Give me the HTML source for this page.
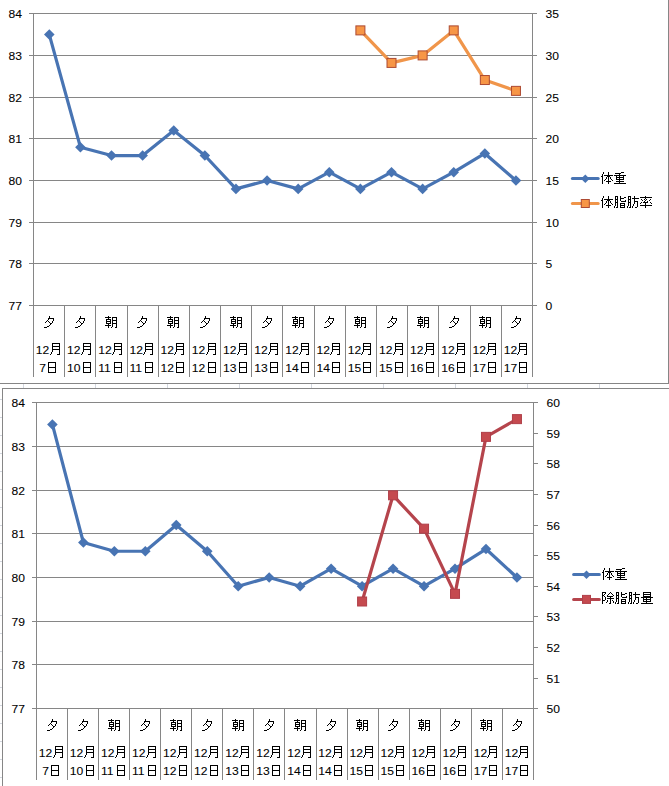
<!DOCTYPE html>
<html lang="ja"><head><meta charset="utf-8"><title>体重 / 体脂肪率 / 除脂肪量</title>
<style>html,body{margin:0;padding:0;background:#fff;}body{width:669px;height:786px;overflow:hidden;font-family:"Liberation Sans",sans-serif;}svg{display:block;}text{font-family:"Liberation Sans",sans-serif;font-size:11px;fill:#000;stroke:#000;stroke-width:0.08px;}.h{font-size:13px;fill:none;stroke:none;}.g{stroke:#868686;stroke-width:1;fill:none;shape-rendering:crispEdges;}.s{stroke:#d3d7df;stroke-width:1;fill:none;shape-rendering:crispEdges;}</style></head><body>
<svg width="669" height="786" viewBox="0 0 669 786">
<defs>
<path id="k0" d="M3 1h1v1h-1zM8 1h1v1h-1zM3 2h1v1h-1zM8 2h1v1h-1zM2 3h1v1h-1zM8 3h1v1h-1zM2 4h1v1h-1zM4 4h9v1h-9zM1 5h2v1h-2zM7 5h3v1h-3zM2 6h1v1h-1zM6 6h1v1h-1zM8 6h1v1h-1zM10 6h1v1h-1zM2 7h1v1h-1zM6 7h1v1h-1zM8 7h1v1h-1zM10 7h1v1h-1zM2 8h1v1h-1zM5 8h1v1h-1zM8 8h1v1h-1zM11 8h1v1h-1zM2 9h1v1h-1zM4 9h1v1h-1zM8 9h1v1h-1zM12 9h1v1h-1zM2 10h1v1h-1zM6 10h5v1h-5zM2 11h1v1h-1zM8 11h1v1h-1zM2 12h1v1h-1zM8 12h1v1h-1z" fill="#000" shape-rendering="crispEdges"/>
<path id="k1" d="M8 1h3v1h-3zM2 2h6v1h-6zM6 3h1v1h-1zM1 4h12v1h-12zM3 5h1v1h-1zM6 5h1v1h-1zM10 5h1v1h-1zM3 6h8v1h-8zM3 7h1v1h-1zM6 7h1v1h-1zM10 7h1v1h-1zM3 8h8v1h-8zM6 9h1v1h-1zM3 10h8v1h-8zM6 11h1v1h-1zM1 12h12v1h-12z" fill="#000" shape-rendering="crispEdges"/>
<path id="k2" d="M2 1h3v1h-3zM7 1h1v1h-1zM2 2h1v1h-1zM4 2h1v1h-1zM7 2h1v1h-1zM11 2h2v1h-2zM2 3h1v1h-1zM4 3h1v1h-1zM7 3h4v1h-4zM2 4h3v1h-3zM7 4h1v1h-1zM2 5h1v1h-1zM4 5h1v1h-1zM7 5h1v1h-1zM12 5h1v1h-1zM2 6h1v1h-1zM4 6h1v1h-1zM8 6h5v1h-5zM2 7h3v1h-3zM2 8h1v1h-1zM4 8h1v1h-1zM7 8h5v1h-5zM2 9h1v1h-1zM4 9h1v1h-1zM7 9h1v1h-1zM11 9h1v1h-1zM2 10h1v1h-1zM4 10h1v1h-1zM7 10h5v1h-5zM1 11h1v1h-1zM4 11h1v1h-1zM7 11h1v1h-1zM11 11h1v1h-1zM1 12h1v1h-1zM3 12h2v1h-2zM7 12h5v1h-5z" fill="#000" shape-rendering="crispEdges"/>
<path id="k3" d="M2 1h3v1h-3zM8 1h1v1h-1zM2 2h1v1h-1zM4 2h1v1h-1zM8 2h1v1h-1zM2 3h1v1h-1zM4 3h1v1h-1zM6 3h7v1h-7zM2 4h3v1h-3zM8 4h1v1h-1zM2 5h1v1h-1zM4 5h1v1h-1zM8 5h1v1h-1zM2 6h1v1h-1zM4 6h1v1h-1zM8 6h4v1h-4zM2 7h3v1h-3zM8 7h1v1h-1zM11 7h1v1h-1zM2 8h1v1h-1zM4 8h1v1h-1zM8 8h1v1h-1zM11 8h1v1h-1zM2 9h1v1h-1zM4 9h1v1h-1zM7 9h1v1h-1zM11 9h1v1h-1zM2 10h1v1h-1zM4 10h1v1h-1zM7 10h1v1h-1zM11 10h1v1h-1zM1 11h1v1h-1zM4 11h1v1h-1zM6 11h1v1h-1zM11 11h1v1h-1zM1 12h1v1h-1zM3 12h2v1h-2zM6 12h1v1h-1zM9 12h2v1h-2z" fill="#000" shape-rendering="crispEdges"/>
<path id="k4" d="M6 1h1v1h-1zM1 2h12v1h-12zM6 3h1v1h-1zM2 4h1v1h-1zM5 4h1v1h-1zM7 4h1v1h-1zM11 4h1v1h-1zM3 5h1v1h-1zM6 5h1v1h-1zM10 5h1v1h-1zM5 6h1v1h-1zM8 6h1v1h-1zM2 7h1v1h-1zM4 7h5v1h-5zM11 7h1v1h-1zM1 8h1v1h-1zM6 8h1v1h-1zM12 8h1v1h-1zM6 9h1v1h-1zM1 10h12v1h-12zM6 11h1v1h-1zM6 12h1v1h-1z" fill="#000" shape-rendering="crispEdges"/>
<path id="k5" d="M1 1h4v1h-4zM9 1h1v1h-1zM1 2h1v1h-1zM4 2h1v1h-1zM8 2h1v1h-1zM10 2h1v1h-1zM1 3h1v1h-1zM3 3h1v1h-1zM7 3h1v1h-1zM11 3h1v1h-1zM1 4h2v1h-2zM6 4h1v1h-1zM12 4h1v1h-1zM1 5h1v1h-1zM3 5h1v1h-1zM6 5h6v1h-6zM1 6h1v1h-1zM4 6h1v1h-1zM9 6h1v1h-1zM1 7h1v1h-1zM4 7h1v1h-1zM6 7h7v1h-7zM1 8h1v1h-1zM4 8h1v1h-1zM9 8h1v1h-1zM1 9h3v1h-3zM6 9h1v1h-1zM9 9h1v1h-1zM11 9h1v1h-1zM1 10h1v1h-1zM6 10h1v1h-1zM9 10h1v1h-1zM12 10h1v1h-1zM1 11h1v1h-1zM5 11h1v1h-1zM9 11h1v1h-1zM12 11h1v1h-1zM1 12h1v1h-1zM8 12h2v1h-2z" fill="#000" shape-rendering="crispEdges"/>
<path id="k6" d="M3 1h8v1h-8zM3 2h1v1h-1zM10 2h1v1h-1zM3 3h8v1h-8zM3 4h1v1h-1zM10 4h1v1h-1zM3 5h8v1h-8zM1 6h12v1h-12zM3 7h1v1h-1zM6 7h1v1h-1zM10 7h1v1h-1zM3 8h8v1h-8zM3 9h1v1h-1zM6 9h1v1h-1zM10 9h1v1h-1zM3 10h8v1h-8zM6 11h1v1h-1zM1 12h12v1h-12z" fill="#000" shape-rendering="crispEdges"/>
<path id="k7" d="M4 1h1v1h-1zM1 2h6v1h-6zM8 2h5v1h-5zM4 3h1v1h-1zM8 3h1v1h-1zM12 3h1v1h-1zM2 4h5v1h-5zM8 4h1v1h-1zM12 4h1v1h-1zM2 5h1v1h-1zM6 5h1v1h-1zM8 5h5v1h-5zM2 6h5v1h-5zM8 6h1v1h-1zM12 6h1v1h-1zM2 7h1v1h-1zM6 7h1v1h-1zM8 7h1v1h-1zM12 7h1v1h-1zM2 8h5v1h-5zM8 8h5v1h-5zM4 9h1v1h-1zM8 9h1v1h-1zM12 9h1v1h-1zM1 10h6v1h-6zM8 10h1v1h-1zM12 10h1v1h-1zM4 11h1v1h-1zM8 11h1v1h-1zM12 11h1v1h-1zM4 12h1v1h-1zM7 12h1v1h-1zM11 12h2v1h-2z" fill="#000" shape-rendering="crispEdges"/>
<path id="k8" d="M7 1h1v1h-1zM7 2h1v1h-1zM6 3h6v1h-6zM6 4h1v1h-1zM11 4h1v1h-1zM5 5h1v1h-1zM11 5h1v1h-1zM4 6h1v1h-1zM6 6h1v1h-1zM10 6h1v1h-1zM3 7h1v1h-1zM7 7h1v1h-1zM10 7h1v1h-1zM8 8h2v1h-2zM8 9h1v1h-1zM7 10h1v1h-1zM5 11h2v1h-2zM2 12h3v1h-3z" fill="#000" shape-rendering="crispEdges"/>
<path id="k9" d="M2 1h8v1h-8zM2 2h1v1h-1zM9 2h1v1h-1zM2 3h1v1h-1zM9 3h1v1h-1zM2 4h8v1h-8zM2 5h1v1h-1zM9 5h1v1h-1zM2 6h1v1h-1zM9 6h1v1h-1zM2 7h8v1h-8zM2 8h1v1h-1zM9 8h1v1h-1zM2 9h1v1h-1zM9 9h1v1h-1zM1 10h1v1h-1zM9 10h1v1h-1zM1 11h1v1h-1zM9 11h1v1h-1zM0 12h1v1h-1zM7 12h3v1h-3z" fill="#000" shape-rendering="crispEdges"/>
<path id="k10" d="M2 2h8v1h-8zM2 3h1v1h-1zM9 3h1v1h-1zM2 4h1v1h-1zM9 4h1v1h-1zM2 5h1v1h-1zM9 5h1v1h-1zM2 6h1v1h-1zM9 6h1v1h-1zM2 7h8v1h-8zM2 8h1v1h-1zM9 8h1v1h-1zM2 9h1v1h-1zM9 9h1v1h-1zM2 10h1v1h-1zM9 10h1v1h-1zM2 11h1v1h-1zM9 11h1v1h-1zM2 12h8v1h-8z" fill="#000" shape-rendering="crispEdges"/>
</defs>
<rect x="0" y="0" width="669" height="786" fill="#fff"/>
<line class="s" x1="23.5" y1="384" x2="23.5" y2="388"/>
<line class="s" x1="95.5" y1="384" x2="95.5" y2="388"/>
<line class="s" x1="167.5" y1="384" x2="167.5" y2="388"/>
<line class="s" x1="239.5" y1="384" x2="239.5" y2="388"/>
<line class="s" x1="311.5" y1="384" x2="311.5" y2="388"/>
<line class="s" x1="383.5" y1="384" x2="383.5" y2="388"/>
<line class="s" x1="455.5" y1="384" x2="455.5" y2="388"/>
<line class="s" x1="527.5" y1="384" x2="527.5" y2="388"/>
<line class="s" x1="599.5" y1="384" x2="599.5" y2="388"/>
<line class="s" x1="0" y1="399.5" x2="2" y2="399.5"/>
<line class="s" x1="0" y1="417.5" x2="2" y2="417.5"/>
<line class="s" x1="0" y1="435.5" x2="2" y2="435.5"/>
<line class="s" x1="0" y1="453.5" x2="2" y2="453.5"/>
<line class="s" x1="0" y1="471.5" x2="2" y2="471.5"/>
<line class="s" x1="0" y1="489.5" x2="2" y2="489.5"/>
<line class="s" x1="0" y1="507.5" x2="2" y2="507.5"/>
<line class="s" x1="0" y1="525.5" x2="2" y2="525.5"/>
<line class="s" x1="0" y1="543.5" x2="2" y2="543.5"/>
<line class="s" x1="0" y1="561.5" x2="2" y2="561.5"/>
<line class="s" x1="0" y1="579.5" x2="2" y2="579.5"/>
<line class="s" x1="0" y1="597.5" x2="2" y2="597.5"/>
<line class="s" x1="0" y1="615.5" x2="2" y2="615.5"/>
<line class="s" x1="0" y1="633.5" x2="2" y2="633.5"/>
<line class="s" x1="0" y1="651.5" x2="2" y2="651.5"/>
<line class="s" x1="0" y1="669.5" x2="2" y2="669.5"/>
<line class="s" x1="0" y1="687.5" x2="2" y2="687.5"/>
<line class="s" x1="0" y1="705.5" x2="2" y2="705.5"/>
<line class="s" x1="0" y1="723.5" x2="2" y2="723.5"/>
<line class="s" x1="0" y1="741.5" x2="2" y2="741.5"/>
<line class="s" x1="0" y1="759.5" x2="2" y2="759.5"/>
<line class="s" x1="0" y1="777.5" x2="2" y2="777.5"/>
<line class="g" x1="0" y1="383.5" x2="669" y2="383.5"/>
<line class="g" x1="668.5" y1="0" x2="668.5" y2="384"/>
<line class="g" x1="2" y1="388.5" x2="669" y2="388.5"/>
<line class="g" x1="2.5" y1="388" x2="2.5" y2="786"/>
<line class="g" x1="29" y1="13.5" x2="533" y2="13.5"/>
<line class="g" x1="29" y1="55.5" x2="533" y2="55.5"/>
<line class="g" x1="29" y1="97.5" x2="533" y2="97.5"/>
<line class="g" x1="29" y1="138.5" x2="533" y2="138.5"/>
<line class="g" x1="29" y1="180.5" x2="533" y2="180.5"/>
<line class="g" x1="29" y1="222.5" x2="533" y2="222.5"/>
<line class="g" x1="29" y1="263.5" x2="533" y2="263.5"/>
<line class="g" x1="29" y1="305.5" x2="533" y2="305.5"/>
<line class="g" x1="532.5" y1="13.5" x2="537" y2="13.5"/>
<line class="g" x1="532.5" y1="55.5" x2="537" y2="55.5"/>
<line class="g" x1="532.5" y1="97.5" x2="537" y2="97.5"/>
<line class="g" x1="532.5" y1="138.5" x2="537" y2="138.5"/>
<line class="g" x1="532.5" y1="180.5" x2="537" y2="180.5"/>
<line class="g" x1="532.5" y1="222.5" x2="537" y2="222.5"/>
<line class="g" x1="532.5" y1="263.5" x2="537" y2="263.5"/>
<line class="g" x1="532.5" y1="305.5" x2="537" y2="305.5"/>
<line class="g" x1="33.5" y1="13" x2="33.5" y2="377"/>
<line class="g" x1="532.5" y1="13" x2="532.5" y2="377"/>
<line class="g" x1="64.5" y1="305.5" x2="64.5" y2="377"/>
<line class="g" x1="95.5" y1="305.5" x2="95.5" y2="377"/>
<line class="g" x1="127.5" y1="305.5" x2="127.5" y2="377"/>
<line class="g" x1="158.5" y1="305.5" x2="158.5" y2="377"/>
<line class="g" x1="189.5" y1="305.5" x2="189.5" y2="377"/>
<line class="g" x1="220.5" y1="305.5" x2="220.5" y2="377"/>
<line class="g" x1="251.5" y1="305.5" x2="251.5" y2="377"/>
<line class="g" x1="282.5" y1="305.5" x2="282.5" y2="377"/>
<line class="g" x1="314.5" y1="305.5" x2="314.5" y2="377"/>
<line class="g" x1="345.5" y1="305.5" x2="345.5" y2="377"/>
<line class="g" x1="376.5" y1="305.5" x2="376.5" y2="377"/>
<line class="g" x1="407.5" y1="305.5" x2="407.5" y2="377"/>
<line class="g" x1="438.5" y1="305.5" x2="438.5" y2="377"/>
<line class="g" x1="470.5" y1="305.5" x2="470.5" y2="377"/>
<line class="g" x1="501.5" y1="305.5" x2="501.5" y2="377"/>
<text transform="translate(8.50 17.80) scale(1.1 1)">84</text>
<text transform="translate(8.50 59.80) scale(1.1 1)">83</text>
<text transform="translate(8.50 101.80) scale(1.1 1)">82</text>
<text transform="translate(8.50 142.80) scale(1.1 1)">81</text>
<text transform="translate(8.50 184.80) scale(1.1 1)">80</text>
<text transform="translate(8.50 226.80) scale(1.1 1)">79</text>
<text transform="translate(8.50 267.80) scale(1.1 1)">78</text>
<text transform="translate(8.50 309.80) scale(1.1 1)">77</text>
<text transform="translate(545.50 17.80) scale(1.1 1)">35</text>
<text transform="translate(545.50 59.80) scale(1.1 1)">30</text>
<text transform="translate(545.50 101.80) scale(1.1 1)">25</text>
<text transform="translate(545.50 142.80) scale(1.1 1)">20</text>
<text transform="translate(545.50 184.80) scale(1.1 1)">15</text>
<text transform="translate(545.50 226.80) scale(1.1 1)">10</text>
<text transform="translate(545.50 267.80) scale(1.1 1)">5</text>
<text transform="translate(545.50 309.80) scale(1.1 1)">0</text>
<g role="img" aria-label="夕 12月7日">
<use href="#k8" xlink:href="#k8" x="42" y="315"/><text class="h" x="42" y="327">夕</text>
<g role="img" aria-label="12月"><text transform="translate(35.87 353.90) scale(1.1 1)">12</text><use href="#k9" xlink:href="#k9" x="50" y="342"/><text class="h" x="50" y="354">月</text></g>
<g role="img" aria-label="7日"><text transform="translate(39.23 371.90) scale(1.1 1)">7</text><use href="#k10" xlink:href="#k10" x="46" y="360"/><text class="h" x="46" y="372">日</text></g>
</g>
<g role="img" aria-label="夕 12月10日">
<use href="#k8" xlink:href="#k8" x="73" y="315"/><text class="h" x="73" y="327">夕</text>
<g role="img" aria-label="12月"><text transform="translate(67.05 353.90) scale(1.1 1)">12</text><use href="#k9" xlink:href="#k9" x="81" y="342"/><text class="h" x="81" y="354">月</text></g>
<g role="img" aria-label="10日"><text transform="translate(67.05 371.90) scale(1.1 1)">10</text><use href="#k10" xlink:href="#k10" x="81" y="360"/><text class="h" x="81" y="372">日</text></g>
</g>
<g role="img" aria-label="朝 12月11日">
<use href="#k7" xlink:href="#k7" x="104" y="315"/><text class="h" x="104" y="327">朝</text>
<g role="img" aria-label="12月"><text transform="translate(98.24 353.90) scale(1.1 1)">12</text><use href="#k9" xlink:href="#k9" x="112" y="342"/><text class="h" x="112" y="354">月</text></g>
<g role="img" aria-label="11日"><text transform="translate(98.24 371.90) scale(1.1 1)">11</text><use href="#k10" xlink:href="#k10" x="112" y="360"/><text class="h" x="112" y="372">日</text></g>
</g>
<g role="img" aria-label="夕 12月11日">
<use href="#k8" xlink:href="#k8" x="135" y="315"/><text class="h" x="135" y="327">夕</text>
<g role="img" aria-label="12月"><text transform="translate(129.43 353.90) scale(1.1 1)">12</text><use href="#k9" xlink:href="#k9" x="143" y="342"/><text class="h" x="143" y="354">月</text></g>
<g role="img" aria-label="11日"><text transform="translate(129.43 371.90) scale(1.1 1)">11</text><use href="#k10" xlink:href="#k10" x="143" y="360"/><text class="h" x="143" y="372">日</text></g>
</g>
<g role="img" aria-label="朝 12月12日">
<use href="#k7" xlink:href="#k7" x="166" y="315"/><text class="h" x="166" y="327">朝</text>
<g role="img" aria-label="12月"><text transform="translate(160.62 353.90) scale(1.1 1)">12</text><use href="#k9" xlink:href="#k9" x="174" y="342"/><text class="h" x="174" y="354">月</text></g>
<g role="img" aria-label="12日"><text transform="translate(160.62 371.90) scale(1.1 1)">12</text><use href="#k10" xlink:href="#k10" x="174" y="360"/><text class="h" x="174" y="372">日</text></g>
</g>
<g role="img" aria-label="夕 12月12日">
<use href="#k8" xlink:href="#k8" x="198" y="315"/><text class="h" x="198" y="327">夕</text>
<g role="img" aria-label="12月"><text transform="translate(191.80 353.90) scale(1.1 1)">12</text><use href="#k9" xlink:href="#k9" x="206" y="342"/><text class="h" x="206" y="354">月</text></g>
<g role="img" aria-label="12日"><text transform="translate(191.80 371.90) scale(1.1 1)">12</text><use href="#k10" xlink:href="#k10" x="206" y="360"/><text class="h" x="206" y="372">日</text></g>
</g>
<g role="img" aria-label="朝 12月13日">
<use href="#k7" xlink:href="#k7" x="229" y="315"/><text class="h" x="229" y="327">朝</text>
<g role="img" aria-label="12月"><text transform="translate(222.99 353.90) scale(1.1 1)">12</text><use href="#k9" xlink:href="#k9" x="237" y="342"/><text class="h" x="237" y="354">月</text></g>
<g role="img" aria-label="13日"><text transform="translate(222.99 371.90) scale(1.1 1)">13</text><use href="#k10" xlink:href="#k10" x="237" y="360"/><text class="h" x="237" y="372">日</text></g>
</g>
<g role="img" aria-label="夕 12月13日">
<use href="#k8" xlink:href="#k8" x="260" y="315"/><text class="h" x="260" y="327">夕</text>
<g role="img" aria-label="12月"><text transform="translate(254.18 353.90) scale(1.1 1)">12</text><use href="#k9" xlink:href="#k9" x="268" y="342"/><text class="h" x="268" y="354">月</text></g>
<g role="img" aria-label="13日"><text transform="translate(254.18 371.90) scale(1.1 1)">13</text><use href="#k10" xlink:href="#k10" x="268" y="360"/><text class="h" x="268" y="372">日</text></g>
</g>
<g role="img" aria-label="朝 12月14日">
<use href="#k7" xlink:href="#k7" x="291" y="315"/><text class="h" x="291" y="327">朝</text>
<g role="img" aria-label="12月"><text transform="translate(285.37 353.90) scale(1.1 1)">12</text><use href="#k9" xlink:href="#k9" x="299" y="342"/><text class="h" x="299" y="354">月</text></g>
<g role="img" aria-label="14日"><text transform="translate(285.37 371.90) scale(1.1 1)">14</text><use href="#k10" xlink:href="#k10" x="299" y="360"/><text class="h" x="299" y="372">日</text></g>
</g>
<g role="img" aria-label="夕 12月14日">
<use href="#k8" xlink:href="#k8" x="322" y="315"/><text class="h" x="322" y="327">夕</text>
<g role="img" aria-label="12月"><text transform="translate(316.55 353.90) scale(1.1 1)">12</text><use href="#k9" xlink:href="#k9" x="330" y="342"/><text class="h" x="330" y="354">月</text></g>
<g role="img" aria-label="14日"><text transform="translate(316.55 371.90) scale(1.1 1)">14</text><use href="#k10" xlink:href="#k10" x="330" y="360"/><text class="h" x="330" y="372">日</text></g>
</g>
<g role="img" aria-label="朝 12月15日">
<use href="#k7" xlink:href="#k7" x="353" y="315"/><text class="h" x="353" y="327">朝</text>
<g role="img" aria-label="12月"><text transform="translate(347.74 353.90) scale(1.1 1)">12</text><use href="#k9" xlink:href="#k9" x="361" y="342"/><text class="h" x="361" y="354">月</text></g>
<g role="img" aria-label="15日"><text transform="translate(347.74 371.90) scale(1.1 1)">15</text><use href="#k10" xlink:href="#k10" x="361" y="360"/><text class="h" x="361" y="372">日</text></g>
</g>
<g role="img" aria-label="夕 12月15日">
<use href="#k8" xlink:href="#k8" x="385" y="315"/><text class="h" x="385" y="327">夕</text>
<g role="img" aria-label="12月"><text transform="translate(378.93 353.90) scale(1.1 1)">12</text><use href="#k9" xlink:href="#k9" x="393" y="342"/><text class="h" x="393" y="354">月</text></g>
<g role="img" aria-label="15日"><text transform="translate(378.93 371.90) scale(1.1 1)">15</text><use href="#k10" xlink:href="#k10" x="393" y="360"/><text class="h" x="393" y="372">日</text></g>
</g>
<g role="img" aria-label="朝 12月16日">
<use href="#k7" xlink:href="#k7" x="416" y="315"/><text class="h" x="416" y="327">朝</text>
<g role="img" aria-label="12月"><text transform="translate(410.12 353.90) scale(1.1 1)">12</text><use href="#k9" xlink:href="#k9" x="424" y="342"/><text class="h" x="424" y="354">月</text></g>
<g role="img" aria-label="16日"><text transform="translate(410.12 371.90) scale(1.1 1)">16</text><use href="#k10" xlink:href="#k10" x="424" y="360"/><text class="h" x="424" y="372">日</text></g>
</g>
<g role="img" aria-label="夕 12月16日">
<use href="#k8" xlink:href="#k8" x="447" y="315"/><text class="h" x="447" y="327">夕</text>
<g role="img" aria-label="12月"><text transform="translate(441.30 353.90) scale(1.1 1)">12</text><use href="#k9" xlink:href="#k9" x="455" y="342"/><text class="h" x="455" y="354">月</text></g>
<g role="img" aria-label="16日"><text transform="translate(441.30 371.90) scale(1.1 1)">16</text><use href="#k10" xlink:href="#k10" x="455" y="360"/><text class="h" x="455" y="372">日</text></g>
</g>
<g role="img" aria-label="朝 12月17日">
<use href="#k7" xlink:href="#k7" x="478" y="315"/><text class="h" x="478" y="327">朝</text>
<g role="img" aria-label="12月"><text transform="translate(472.49 353.90) scale(1.1 1)">12</text><use href="#k9" xlink:href="#k9" x="486" y="342"/><text class="h" x="486" y="354">月</text></g>
<g role="img" aria-label="17日"><text transform="translate(472.49 371.90) scale(1.1 1)">17</text><use href="#k10" xlink:href="#k10" x="486" y="360"/><text class="h" x="486" y="372">日</text></g>
</g>
<g role="img" aria-label="夕 12月17日">
<use href="#k8" xlink:href="#k8" x="509" y="315"/><text class="h" x="509" y="327">夕</text>
<g role="img" aria-label="12月"><text transform="translate(503.68 353.90) scale(1.1 1)">12</text><use href="#k9" xlink:href="#k9" x="517" y="342"/><text class="h" x="517" y="354">月</text></g>
<g role="img" aria-label="17日"><text transform="translate(503.68 371.90) scale(1.1 1)">17</text><use href="#k10" xlink:href="#k10" x="517" y="360"/><text class="h" x="517" y="372">日</text></g>
</g>
<polyline fill="none" stroke="#4874b3" stroke-width="3.2" stroke-linejoin="round" stroke-linecap="round" points="49.30,34.56 80.41,147.19 111.52,155.53 142.63,155.53 173.74,130.50 204.85,155.53 235.96,188.90 267.07,180.56 298.18,188.90 329.29,172.21 360.40,188.90 391.51,172.21 422.62,188.90 453.73,172.21 484.84,153.44 515.95,180.56"/>
<path fill="#4874b3" d="M49.30 29.26l5.3 5.3l-5.3 5.3l-5.3 -5.3z"/>
<path fill="#4874b3" d="M80.41 141.89l5.3 5.3l-5.3 5.3l-5.3 -5.3z"/>
<path fill="#4874b3" d="M111.52 150.23l5.3 5.3l-5.3 5.3l-5.3 -5.3z"/>
<path fill="#4874b3" d="M142.63 150.23l5.3 5.3l-5.3 5.3l-5.3 -5.3z"/>
<path fill="#4874b3" d="M173.74 125.20l5.3 5.3l-5.3 5.3l-5.3 -5.3z"/>
<path fill="#4874b3" d="M204.85 150.23l5.3 5.3l-5.3 5.3l-5.3 -5.3z"/>
<path fill="#4874b3" d="M235.96 183.60l5.3 5.3l-5.3 5.3l-5.3 -5.3z"/>
<path fill="#4874b3" d="M267.07 175.26l5.3 5.3l-5.3 5.3l-5.3 -5.3z"/>
<path fill="#4874b3" d="M298.18 183.60l5.3 5.3l-5.3 5.3l-5.3 -5.3z"/>
<path fill="#4874b3" d="M329.29 166.91l5.3 5.3l-5.3 5.3l-5.3 -5.3z"/>
<path fill="#4874b3" d="M360.40 183.60l5.3 5.3l-5.3 5.3l-5.3 -5.3z"/>
<path fill="#4874b3" d="M391.51 166.91l5.3 5.3l-5.3 5.3l-5.3 -5.3z"/>
<path fill="#4874b3" d="M422.62 183.60l5.3 5.3l-5.3 5.3l-5.3 -5.3z"/>
<path fill="#4874b3" d="M453.73 166.91l5.3 5.3l-5.3 5.3l-5.3 -5.3z"/>
<path fill="#4874b3" d="M484.84 148.14l5.3 5.3l-5.3 5.3l-5.3 -5.3z"/>
<path fill="#4874b3" d="M515.95 175.26l5.3 5.3l-5.3 5.3l-5.3 -5.3z"/>
<polyline fill="none" stroke="#f0954a" stroke-width="3.2" stroke-linejoin="round" stroke-linecap="round" points="360.40,30.39 391.51,62.92 422.62,55.41 453.73,30.39 484.84,80.03 515.95,90.87"/>
<rect x="355.90" y="25.89" width="9" height="9" fill="#f79646" stroke="#ad4a32" stroke-width="1"/>
<rect x="387.01" y="58.42" width="9" height="9" fill="#f79646" stroke="#ad4a32" stroke-width="1"/>
<rect x="418.12" y="50.91" width="9" height="9" fill="#f79646" stroke="#ad4a32" stroke-width="1"/>
<rect x="449.23" y="25.89" width="9" height="9" fill="#f79646" stroke="#ad4a32" stroke-width="1"/>
<rect x="480.34" y="75.53" width="9" height="9" fill="#f79646" stroke="#ad4a32" stroke-width="1"/>
<rect x="511.45" y="86.37" width="9" height="9" fill="#f79646" stroke="#ad4a32" stroke-width="1"/>
<line x1="572.4" y1="178.4" x2="598.2" y2="178.4" stroke="#4874b3" stroke-width="3" stroke-linecap="round"/>
<path fill="#4874b3" d="M585.30 174.40l4.3 4.3l-4.3 4.3l-4.3 -4.3z"/>
<g role="img" aria-label="体重">
<use href="#k0" xlink:href="#k0" x="600" y="171"/><text class="h" x="600" y="183">体</text>
<use href="#k1" xlink:href="#k1" x="613" y="171"/><text class="h" x="613" y="183">重</text>
</g>
<line x1="572.4" y1="203.5" x2="598.2" y2="203.5" stroke="#f0954a" stroke-width="3" stroke-linecap="round"/>
<rect x="581.30" y="199.50" width="8" height="8" fill="#f79646" stroke="#ad4a32" stroke-width="1"/>
<g role="img" aria-label="体脂肪率">
<use href="#k0" xlink:href="#k0" x="600" y="195"/><text class="h" x="600" y="207">体</text>
<use href="#k2" xlink:href="#k2" x="613" y="195"/><text class="h" x="613" y="207">脂</text>
<use href="#k3" xlink:href="#k3" x="626" y="195"/><text class="h" x="626" y="207">肪</text>
<use href="#k4" xlink:href="#k4" x="639" y="195"/><text class="h" x="639" y="207">率</text>
</g>
<line class="g" x1="32" y1="402.5" x2="534" y2="402.5"/>
<line class="g" x1="32" y1="446.5" x2="534" y2="446.5"/>
<line class="g" x1="32" y1="490.5" x2="534" y2="490.5"/>
<line class="g" x1="32" y1="533.5" x2="534" y2="533.5"/>
<line class="g" x1="32" y1="577.5" x2="534" y2="577.5"/>
<line class="g" x1="32" y1="621.5" x2="534" y2="621.5"/>
<line class="g" x1="32" y1="664.5" x2="534" y2="664.5"/>
<line class="g" x1="32" y1="708.5" x2="534" y2="708.5"/>
<line class="g" x1="533.5" y1="402.5" x2="538" y2="402.5"/>
<line class="g" x1="533.5" y1="433.5" x2="538" y2="433.5"/>
<line class="g" x1="533.5" y1="463.5" x2="538" y2="463.5"/>
<line class="g" x1="533.5" y1="494.5" x2="538" y2="494.5"/>
<line class="g" x1="533.5" y1="525.5" x2="538" y2="525.5"/>
<line class="g" x1="533.5" y1="555.5" x2="538" y2="555.5"/>
<line class="g" x1="533.5" y1="586.5" x2="538" y2="586.5"/>
<line class="g" x1="533.5" y1="616.5" x2="538" y2="616.5"/>
<line class="g" x1="533.5" y1="647.5" x2="538" y2="647.5"/>
<line class="g" x1="533.5" y1="678.5" x2="538" y2="678.5"/>
<line class="g" x1="533.5" y1="708.5" x2="538" y2="708.5"/>
<line class="g" x1="36.5" y1="402" x2="36.5" y2="780"/>
<line class="g" x1="533.5" y1="402" x2="533.5" y2="780"/>
<line class="g" x1="67.5" y1="708.5" x2="67.5" y2="780"/>
<line class="g" x1="98.5" y1="708.5" x2="98.5" y2="780"/>
<line class="g" x1="129.5" y1="708.5" x2="129.5" y2="780"/>
<line class="g" x1="160.5" y1="708.5" x2="160.5" y2="780"/>
<line class="g" x1="191.5" y1="708.5" x2="191.5" y2="780"/>
<line class="g" x1="222.5" y1="708.5" x2="222.5" y2="780"/>
<line class="g" x1="253.5" y1="708.5" x2="253.5" y2="780"/>
<line class="g" x1="284.5" y1="708.5" x2="284.5" y2="780"/>
<line class="g" x1="316.5" y1="708.5" x2="316.5" y2="780"/>
<line class="g" x1="347.5" y1="708.5" x2="347.5" y2="780"/>
<line class="g" x1="378.5" y1="708.5" x2="378.5" y2="780"/>
<line class="g" x1="409.5" y1="708.5" x2="409.5" y2="780"/>
<line class="g" x1="440.5" y1="708.5" x2="440.5" y2="780"/>
<line class="g" x1="471.5" y1="708.5" x2="471.5" y2="780"/>
<line class="g" x1="502.5" y1="708.5" x2="502.5" y2="780"/>
<text transform="translate(11.50 406.80) scale(1.1 1)">84</text>
<text transform="translate(11.50 450.80) scale(1.1 1)">83</text>
<text transform="translate(11.50 494.80) scale(1.1 1)">82</text>
<text transform="translate(11.50 537.80) scale(1.1 1)">81</text>
<text transform="translate(11.50 581.80) scale(1.1 1)">80</text>
<text transform="translate(11.50 625.80) scale(1.1 1)">79</text>
<text transform="translate(11.50 668.80) scale(1.1 1)">78</text>
<text transform="translate(11.50 712.80) scale(1.1 1)">77</text>
<text transform="translate(546.50 406.80) scale(1.1 1)">60</text>
<text transform="translate(546.50 437.80) scale(1.1 1)">59</text>
<text transform="translate(546.50 467.80) scale(1.1 1)">58</text>
<text transform="translate(546.50 498.80) scale(1.1 1)">57</text>
<text transform="translate(546.50 529.80) scale(1.1 1)">56</text>
<text transform="translate(546.50 559.80) scale(1.1 1)">55</text>
<text transform="translate(546.50 590.80) scale(1.1 1)">54</text>
<text transform="translate(546.50 620.80) scale(1.1 1)">53</text>
<text transform="translate(546.50 651.80) scale(1.1 1)">52</text>
<text transform="translate(546.50 682.80) scale(1.1 1)">51</text>
<text transform="translate(546.50 712.80) scale(1.1 1)">50</text>
<g role="img" aria-label="夕 12月7日">
<use href="#k8" xlink:href="#k8" x="45" y="718"/><text class="h" x="45" y="730">夕</text>
<g role="img" aria-label="12月"><text transform="translate(38.80 756.90) scale(1.1 1)">12</text><use href="#k9" xlink:href="#k9" x="53" y="745"/><text class="h" x="53" y="757">月</text></g>
<g role="img" aria-label="7日"><text transform="translate(42.17 774.90) scale(1.1 1)">7</text><use href="#k10" xlink:href="#k10" x="49" y="763"/><text class="h" x="49" y="775">日</text></g>
</g>
<g role="img" aria-label="夕 12月10日">
<use href="#k8" xlink:href="#k8" x="76" y="718"/><text class="h" x="76" y="730">夕</text>
<g role="img" aria-label="12月"><text transform="translate(69.87 756.90) scale(1.1 1)">12</text><use href="#k9" xlink:href="#k9" x="84" y="745"/><text class="h" x="84" y="757">月</text></g>
<g role="img" aria-label="10日"><text transform="translate(69.87 774.90) scale(1.1 1)">10</text><use href="#k10" xlink:href="#k10" x="84" y="763"/><text class="h" x="84" y="775">日</text></g>
</g>
<g role="img" aria-label="朝 12月11日">
<use href="#k7" xlink:href="#k7" x="107" y="718"/><text class="h" x="107" y="730">朝</text>
<g role="img" aria-label="12月"><text transform="translate(100.93 756.90) scale(1.1 1)">12</text><use href="#k9" xlink:href="#k9" x="115" y="745"/><text class="h" x="115" y="757">月</text></g>
<g role="img" aria-label="11日"><text transform="translate(100.93 774.90) scale(1.1 1)">11</text><use href="#k10" xlink:href="#k10" x="115" y="763"/><text class="h" x="115" y="775">日</text></g>
</g>
<g role="img" aria-label="夕 12月11日">
<use href="#k8" xlink:href="#k8" x="138" y="718"/><text class="h" x="138" y="730">夕</text>
<g role="img" aria-label="12月"><text transform="translate(131.99 756.90) scale(1.1 1)">12</text><use href="#k9" xlink:href="#k9" x="146" y="745"/><text class="h" x="146" y="757">月</text></g>
<g role="img" aria-label="11日"><text transform="translate(131.99 774.90) scale(1.1 1)">11</text><use href="#k10" xlink:href="#k10" x="146" y="763"/><text class="h" x="146" y="775">日</text></g>
</g>
<g role="img" aria-label="朝 12月12日">
<use href="#k7" xlink:href="#k7" x="169" y="718"/><text class="h" x="169" y="730">朝</text>
<g role="img" aria-label="12月"><text transform="translate(163.05 756.90) scale(1.1 1)">12</text><use href="#k9" xlink:href="#k9" x="177" y="745"/><text class="h" x="177" y="757">月</text></g>
<g role="img" aria-label="12日"><text transform="translate(163.05 774.90) scale(1.1 1)">12</text><use href="#k10" xlink:href="#k10" x="177" y="763"/><text class="h" x="177" y="775">日</text></g>
</g>
<g role="img" aria-label="夕 12月12日">
<use href="#k8" xlink:href="#k8" x="200" y="718"/><text class="h" x="200" y="730">夕</text>
<g role="img" aria-label="12月"><text transform="translate(194.12 756.90) scale(1.1 1)">12</text><use href="#k9" xlink:href="#k9" x="208" y="745"/><text class="h" x="208" y="757">月</text></g>
<g role="img" aria-label="12日"><text transform="translate(194.12 774.90) scale(1.1 1)">12</text><use href="#k10" xlink:href="#k10" x="208" y="763"/><text class="h" x="208" y="775">日</text></g>
</g>
<g role="img" aria-label="朝 12月13日">
<use href="#k7" xlink:href="#k7" x="231" y="718"/><text class="h" x="231" y="730">朝</text>
<g role="img" aria-label="12月"><text transform="translate(225.18 756.90) scale(1.1 1)">12</text><use href="#k9" xlink:href="#k9" x="239" y="745"/><text class="h" x="239" y="757">月</text></g>
<g role="img" aria-label="13日"><text transform="translate(225.18 774.90) scale(1.1 1)">13</text><use href="#k10" xlink:href="#k10" x="239" y="763"/><text class="h" x="239" y="775">日</text></g>
</g>
<g role="img" aria-label="夕 12月13日">
<use href="#k8" xlink:href="#k8" x="262" y="718"/><text class="h" x="262" y="730">夕</text>
<g role="img" aria-label="12月"><text transform="translate(256.24 756.90) scale(1.1 1)">12</text><use href="#k9" xlink:href="#k9" x="270" y="745"/><text class="h" x="270" y="757">月</text></g>
<g role="img" aria-label="13日"><text transform="translate(256.24 774.90) scale(1.1 1)">13</text><use href="#k10" xlink:href="#k10" x="270" y="763"/><text class="h" x="270" y="775">日</text></g>
</g>
<g role="img" aria-label="朝 12月14日">
<use href="#k7" xlink:href="#k7" x="293" y="718"/><text class="h" x="293" y="730">朝</text>
<g role="img" aria-label="12月"><text transform="translate(287.30 756.90) scale(1.1 1)">12</text><use href="#k9" xlink:href="#k9" x="301" y="745"/><text class="h" x="301" y="757">月</text></g>
<g role="img" aria-label="14日"><text transform="translate(287.30 774.90) scale(1.1 1)">14</text><use href="#k10" xlink:href="#k10" x="301" y="763"/><text class="h" x="301" y="775">日</text></g>
</g>
<g role="img" aria-label="夕 12月14日">
<use href="#k8" xlink:href="#k8" x="324" y="718"/><text class="h" x="324" y="730">夕</text>
<g role="img" aria-label="12月"><text transform="translate(318.37 756.90) scale(1.1 1)">12</text><use href="#k9" xlink:href="#k9" x="332" y="745"/><text class="h" x="332" y="757">月</text></g>
<g role="img" aria-label="14日"><text transform="translate(318.37 774.90) scale(1.1 1)">14</text><use href="#k10" xlink:href="#k10" x="332" y="763"/><text class="h" x="332" y="775">日</text></g>
</g>
<g role="img" aria-label="朝 12月15日">
<use href="#k7" xlink:href="#k7" x="355" y="718"/><text class="h" x="355" y="730">朝</text>
<g role="img" aria-label="12月"><text transform="translate(349.43 756.90) scale(1.1 1)">12</text><use href="#k9" xlink:href="#k9" x="363" y="745"/><text class="h" x="363" y="757">月</text></g>
<g role="img" aria-label="15日"><text transform="translate(349.43 774.90) scale(1.1 1)">15</text><use href="#k10" xlink:href="#k10" x="363" y="763"/><text class="h" x="363" y="775">日</text></g>
</g>
<g role="img" aria-label="夕 12月15日">
<use href="#k8" xlink:href="#k8" x="386" y="718"/><text class="h" x="386" y="730">夕</text>
<g role="img" aria-label="12月"><text transform="translate(380.49 756.90) scale(1.1 1)">12</text><use href="#k9" xlink:href="#k9" x="394" y="745"/><text class="h" x="394" y="757">月</text></g>
<g role="img" aria-label="15日"><text transform="translate(380.49 774.90) scale(1.1 1)">15</text><use href="#k10" xlink:href="#k10" x="394" y="763"/><text class="h" x="394" y="775">日</text></g>
</g>
<g role="img" aria-label="朝 12月16日">
<use href="#k7" xlink:href="#k7" x="417" y="718"/><text class="h" x="417" y="730">朝</text>
<g role="img" aria-label="12月"><text transform="translate(411.55 756.90) scale(1.1 1)">12</text><use href="#k9" xlink:href="#k9" x="425" y="745"/><text class="h" x="425" y="757">月</text></g>
<g role="img" aria-label="16日"><text transform="translate(411.55 774.90) scale(1.1 1)">16</text><use href="#k10" xlink:href="#k10" x="425" y="763"/><text class="h" x="425" y="775">日</text></g>
</g>
<g role="img" aria-label="夕 12月16日">
<use href="#k8" xlink:href="#k8" x="448" y="718"/><text class="h" x="448" y="730">夕</text>
<g role="img" aria-label="12月"><text transform="translate(442.62 756.90) scale(1.1 1)">12</text><use href="#k9" xlink:href="#k9" x="456" y="745"/><text class="h" x="456" y="757">月</text></g>
<g role="img" aria-label="16日"><text transform="translate(442.62 774.90) scale(1.1 1)">16</text><use href="#k10" xlink:href="#k10" x="456" y="763"/><text class="h" x="456" y="775">日</text></g>
</g>
<g role="img" aria-label="朝 12月17日">
<use href="#k7" xlink:href="#k7" x="479" y="718"/><text class="h" x="479" y="730">朝</text>
<g role="img" aria-label="12月"><text transform="translate(473.68 756.90) scale(1.1 1)">12</text><use href="#k9" xlink:href="#k9" x="487" y="745"/><text class="h" x="487" y="757">月</text></g>
<g role="img" aria-label="17日"><text transform="translate(473.68 774.90) scale(1.1 1)">17</text><use href="#k10" xlink:href="#k10" x="487" y="763"/><text class="h" x="487" y="775">日</text></g>
</g>
<g role="img" aria-label="夕 12月17日">
<use href="#k8" xlink:href="#k8" x="510" y="718"/><text class="h" x="510" y="730">夕</text>
<g role="img" aria-label="12月"><text transform="translate(504.74 756.90) scale(1.1 1)">12</text><use href="#k9" xlink:href="#k9" x="518" y="745"/><text class="h" x="518" y="757">月</text></g>
<g role="img" aria-label="17日"><text transform="translate(504.74 774.90) scale(1.1 1)">17</text><use href="#k10" xlink:href="#k10" x="518" y="763"/><text class="h" x="518" y="775">日</text></g>
</g>
<polyline fill="none" stroke="#4874b3" stroke-width="3.2" stroke-linejoin="round" stroke-linecap="round" points="52.40,424.46 83.37,542.49 114.34,551.23 145.31,551.23 176.28,525.00 207.25,551.23 238.22,586.20 269.19,577.46 300.16,586.20 331.13,568.71 362.10,586.20 393.07,568.71 424.04,586.20 455.01,568.71 485.98,549.04 516.95,577.46"/>
<path fill="#4874b3" d="M52.40 419.16l5.3 5.3l-5.3 5.3l-5.3 -5.3z"/>
<path fill="#4874b3" d="M83.37 537.19l5.3 5.3l-5.3 5.3l-5.3 -5.3z"/>
<path fill="#4874b3" d="M114.34 545.93l5.3 5.3l-5.3 5.3l-5.3 -5.3z"/>
<path fill="#4874b3" d="M145.31 545.93l5.3 5.3l-5.3 5.3l-5.3 -5.3z"/>
<path fill="#4874b3" d="M176.28 519.70l5.3 5.3l-5.3 5.3l-5.3 -5.3z"/>
<path fill="#4874b3" d="M207.25 545.93l5.3 5.3l-5.3 5.3l-5.3 -5.3z"/>
<path fill="#4874b3" d="M238.22 580.90l5.3 5.3l-5.3 5.3l-5.3 -5.3z"/>
<path fill="#4874b3" d="M269.19 572.16l5.3 5.3l-5.3 5.3l-5.3 -5.3z"/>
<path fill="#4874b3" d="M300.16 580.90l5.3 5.3l-5.3 5.3l-5.3 -5.3z"/>
<path fill="#4874b3" d="M331.13 563.41l5.3 5.3l-5.3 5.3l-5.3 -5.3z"/>
<path fill="#4874b3" d="M362.10 580.90l5.3 5.3l-5.3 5.3l-5.3 -5.3z"/>
<path fill="#4874b3" d="M393.07 563.41l5.3 5.3l-5.3 5.3l-5.3 -5.3z"/>
<path fill="#4874b3" d="M424.04 580.90l5.3 5.3l-5.3 5.3l-5.3 -5.3z"/>
<path fill="#4874b3" d="M455.01 563.41l5.3 5.3l-5.3 5.3l-5.3 -5.3z"/>
<path fill="#4874b3" d="M485.98 543.74l5.3 5.3l-5.3 5.3l-5.3 -5.3z"/>
<path fill="#4874b3" d="M516.95 572.16l5.3 5.3l-5.3 5.3l-5.3 -5.3z"/>
<polyline fill="none" stroke="#b5444c" stroke-width="3.2" stroke-linejoin="round" stroke-linecap="round" points="362.10,601.50 393.07,495.32 424.04,528.67 455.01,593.85 485.98,436.87 516.95,419.12"/>
<rect x="357.60" y="597.00" width="9" height="9" fill="#c54a4f" stroke="#b03f49" stroke-width="1"/>
<rect x="388.57" y="490.82" width="9" height="9" fill="#c54a4f" stroke="#b03f49" stroke-width="1"/>
<rect x="419.54" y="524.17" width="9" height="9" fill="#c54a4f" stroke="#b03f49" stroke-width="1"/>
<rect x="450.51" y="589.35" width="9" height="9" fill="#c54a4f" stroke="#b03f49" stroke-width="1"/>
<rect x="481.48" y="432.37" width="9" height="9" fill="#c54a4f" stroke="#b03f49" stroke-width="1"/>
<rect x="512.45" y="414.62" width="9" height="9" fill="#c54a4f" stroke="#b03f49" stroke-width="1"/>
<line x1="573.6" y1="574.5" x2="599.4" y2="574.5" stroke="#4874b3" stroke-width="3" stroke-linecap="round"/>
<path fill="#4874b3" d="M586.50 570.50l4.3 4.3l-4.3 4.3l-4.3 -4.3z"/>
<g role="img" aria-label="体重">
<use href="#k0" xlink:href="#k0" x="601" y="567"/><text class="h" x="601" y="579">体</text>
<use href="#k1" xlink:href="#k1" x="614" y="567"/><text class="h" x="614" y="579">重</text>
</g>
<line x1="573.6" y1="599.4" x2="599.4" y2="599.4" stroke="#b5444c" stroke-width="3" stroke-linecap="round"/>
<rect x="582.50" y="595.40" width="8" height="8" fill="#c54a4f" stroke="#b03f49" stroke-width="1"/>
<g role="img" aria-label="除脂肪量">
<use href="#k5" xlink:href="#k5" x="601" y="591"/><text class="h" x="601" y="603">除</text>
<use href="#k2" xlink:href="#k2" x="614" y="591"/><text class="h" x="614" y="603">脂</text>
<use href="#k3" xlink:href="#k3" x="627" y="591"/><text class="h" x="627" y="603">肪</text>
<use href="#k6" xlink:href="#k6" x="640" y="591"/><text class="h" x="640" y="603">量</text>
</g>
</svg></body></html>
